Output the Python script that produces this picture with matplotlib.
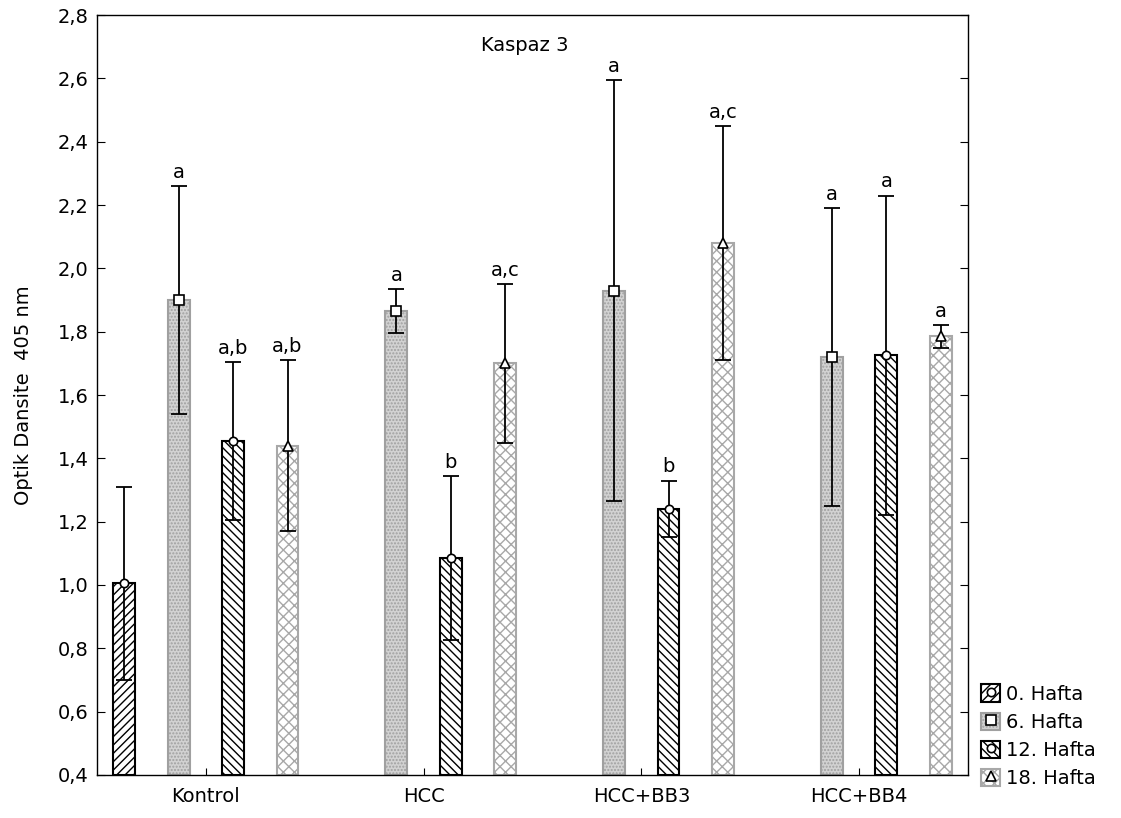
import matplotlib.pyplot as plt
import numpy as np
from matplotlib.patches import Patch
from matplotlib.lines import Line2D
from matplotlib.ticker import FuncFormatter, MultipleLocator

plt.rcParams['font.family'] = ['DejaVu Sans']
plt.rcParams['hatch.linewidth'] = 1.0

groups = ['Kontrol', 'HCC', 'HCC+BB3', 'HCC+BB4']
weeks = ['0. Hafta', '6. Hafta', '12. Hafta', '18. Hafta']

# mean and error per week, one value per group (None = no data)
means = {
    '0. Hafta': [1.005, None, None, None],
    '6. Hafta': [1.90, 1.865, 1.93, 1.72],
    '12. Hafta': [1.455, 1.085, 1.24, 1.725],
    '18. Hafta': [1.44, 1.70, 2.08, 1.785],
}
errors = {
    '0. Hafta': [0.305, None, None, None],
    '6. Hafta': [0.36, 0.07, 0.665, 0.47],
    '12. Hafta': [0.25, 0.26, 0.09, 0.505],
    '18. Hafta': [0.27, 0.25, 0.37, 0.035],
}
letters = {
    '0. Hafta': ['', None, None, None],
    '6. Hafta': ['a', 'a', 'a', 'a'],
    '12. Hafta': ['a,b', 'b', 'b', 'a'],
    '18. Hafta': ['a,b', 'a,c', 'a,c', 'a'],
}

styles = {
    '0. Hafta': dict(facecolor='white', edgecolor='black', hatch='////', marker='o', ms=6),
    '6. Hafta': dict(facecolor='#d2d2d2', edgecolor='#a0a0a0', hatch='.....', marker='s', ms=7.5),
    '12. Hafta': dict(facecolor='white', edgecolor='black', hatch='\\\\\\\\', marker='o', ms=6),
    '18. Hafta': dict(facecolor='white', edgecolor='#a8a8a8', hatch='xxx', marker='^', ms=7),
}

base = 0.4
offsets = [-0.375, -0.125, 0.125, 0.375]
width = 0.1
fs = 14

fig = plt.figure(figsize=(11.21, 8.18), dpi=100)
ax = fig.add_axes([0.0865, 0.0526, 0.777, 0.929])

x = np.arange(len(groups))
handles = []
for w, off in zip(weeks, offsets):
    st = styles[w]
    for i in range(len(groups)):
        m = means[w][i]
        if m is None:
            continue
        e = errors[w][i]
        xi = x[i] + off
        ax.bar(xi, m - base, bottom=base, width=width, facecolor=st['facecolor'],
               edgecolor=st['edgecolor'], hatch=st['hatch'], linewidth=1.5, zorder=2)
        ax.errorbar(xi, m, yerr=e, fmt='none', ecolor='black', elinewidth=1.3,
                    capsize=6, capthick=1.3, zorder=3)
        ax.plot(xi, m, marker=st['marker'], markersize=st['ms'], markerfacecolor='white',
                markeredgecolor='black', markeredgewidth=1.2, zorder=4)
        if letters[w][i]:
            ax.annotate(letters[w][i], (xi, m + e), xytext=(0, 3), textcoords='offset points',
                        ha='center', va='bottom', fontsize=fs)
    handles.append((Patch(facecolor=st['facecolor'], edgecolor=st['edgecolor'],
                          hatch=st['hatch'], linewidth=1.5),
                    Line2D([], [], linestyle='none', marker=st['marker'], markersize=st['ms'],
                           markerfacecolor='white', markeredgecolor='black',
                           markeredgewidth=1.2)))

ax.set_xlim(-0.5, 3.5)
ax.set_ylim(0.4, 2.8)
ax.set_xticks(x)
ax.set_xticklabels(groups, fontsize=fs)
ax.yaxis.set_major_locator(MultipleLocator(0.2))
ax.yaxis.set_major_formatter(FuncFormatter(lambda v, p: f'{v:.1f}'.replace('.', ',')))
ax.tick_params(axis='y', labelsize=fs, direction='in', length=6, right=True, pad=6)
ax.tick_params(axis='x', direction='in', length=5, pad=9)
for s in ax.spines.values():
    s.set_linewidth(1.0)

ax.set_ylabel('Optik Dansite  405 nm', fontsize=fs, labelpad=18)
ax.text(0.491, 0.96, 'Kaspaz 3', transform=ax.transAxes, ha='center', va='center',
        fontsize=fs)

fig.legend(handles, weeks, loc='lower left', bbox_to_anchor=(0.868, 0.027),
           frameon=False, fontsize=fs, handlelength=1.0, handleheight=1.0,
           handletextpad=0.3, labelspacing=0.45, borderpad=0.4, borderaxespad=0)

fig.savefig('out.png', dpi=100)
